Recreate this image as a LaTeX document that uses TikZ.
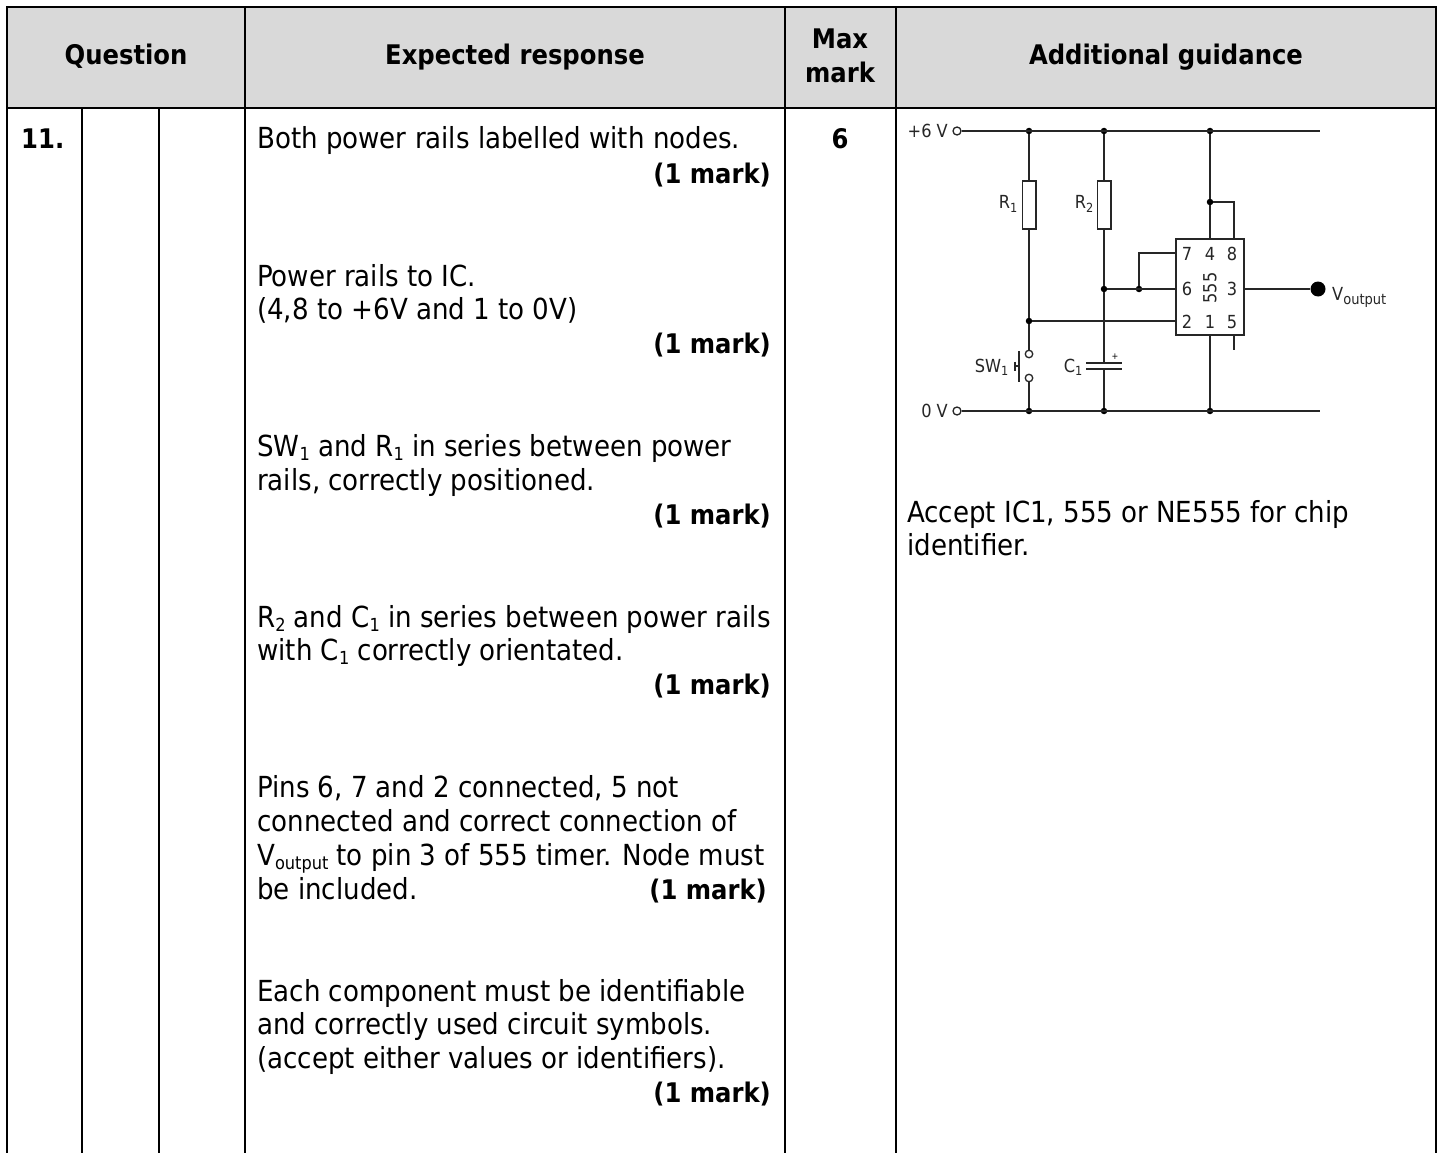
\documentclass[tikz,border=0pt]{standalone}
\usepackage{fontspec}
\setmainfont{DejaVu Sans Condensed}
\newcommand{\subs}[1]{\textsubscript{#1}}
\newcommand{\bsub}[1]{\raisebox{-4.5pt}{\fontsize{18}{18}\selectfont #1}}
\newcommand{\vsub}[1]{\raisebox{-4pt}{\fontsize{14.5}{15}\selectfont #1}}
\tikzset{
  x=1pt,y=-1pt,
  grid/.style={line width=2.3pt,black,line cap=rect},
  wire/.style={line width=1.6pt,black!85},
  body/.style={anchor=base west,inner sep=0pt,font=\fontsize{29}{34}\selectfont},
  mk/.style={anchor=base east,inner sep=0pt,font=\fontsize{27}{34}\selectfont\bfseries},
  head/.style={anchor=base,align=center,inner sep=0pt,font=\fontsize{27}{34}\selectfont\bfseries},
  lab/.style={inner sep=0pt,text=black!85,font=\fontsize{18}{20}\selectfont},
  pin/.style={inner sep=0pt,text=black!85,font=\fontsize{18}{20}\selectfont},
  jn/.style={circle,fill=black,inner sep=0pt,minimum size=6.5pt},
  term/.style={circle,draw=black!85,fill=white,line width=1.3pt,inner sep=0pt,minimum size=8pt},
  res/.style={rectangle,draw=black!85,fill=white,line width=1.5pt,inner sep=0pt,minimum width=13.5pt,minimum height=48pt},
}
\begin{document}
\begin{tikzpicture}
\useasboundingbox (0,0) rectangle (1442,1153);
\fill[white] (0,0) rectangle (1442,1153);
\fill[black!15] (7,7) rectangle (1436,108);
% table grid
\coordinate (tl) at (7,7); \coordinate (tr) at (1436,7);
\coordinate (ml) at (7,108); \coordinate (mr) at (1436,108);
\coordinate (bl) at (7,1153); \coordinate (br) at (1436,1153);
\draw[grid] (bl) -- (tl) -- (tr) -- (br);
\draw[grid] (ml) -- (mr);
\foreach \x in {245,785,896} \draw[grid] (\x,7) -- (\x,1153);
\foreach \x in {82,159} \draw[grid] (\x,108) -- (\x,1153);
% headers
\node[head] (hq) at (126,65) {Question};
\node[head] (he) at (515,65) {Expected response};
\node[head] (hm) at (840,49) {Max};
\node[head] (hm2) at (840,83) {mark};
\node[head] (ha) at (1166,65) {Additional guidance};
\node[mk,anchor=base west] (q) at (21,149) {11.};
\node[mk,anchor=base] (six) at (840,149) {6};
% response text
\node[body] (a1) at (257,149) {Both power rails labelled with nodes.};
\node[mk] (m1) at (771,183) {(1 mark)};
\node[body] (a2) at (257,286) {Power rails to IC.};
\node[body] (a2b) at (257,319) {(4,8 to +6V and 1 to 0V)};
\node[mk] (m2) at (771,353) {(1 mark)};
\node[body] (a3) at (257,456) {SW\bsub{1} and R\bsub{1} in series between power};
\node[body] (a3b) at (257,490) {rails, correctly positioned.};
\node[mk] (m3) at (771,524) {(1 mark)};
\node[body] (a4) at (257,627) {R\bsub{2} and C\bsub{1} in series between power rails};
\node[body] (a4b) at (257,660) {with C\bsub{1} correctly orientated.};
\node[mk] (m4) at (771,694) {(1 mark)};
\node[body] (a5) at (257,797) {Pins 6, 7 and 2 connected, 5 not};
\node[body] (a5b) at (257,831) {connected and correct connection of};
\node[body] (a5c) at (257,865) {V\bsub{output} to pin 3 of 555 timer. Node must};
\node[body] (a5d) at (257,899) {be included.};
\node[mk] (m5) at (767,899) {(1 mark)};
\node[body] (a6) at (257,1001) {Each component must be identifiable};
\node[body] (a6b) at (257,1034) {and correctly used circuit symbols.};
\node[body] (a6c) at (257,1068) {(accept either values or identifiers).};
\node[mk] (m6) at (771,1102) {(1 mark)};
\node[body] (g1) at (907,522) {Accept IC1, 555 or NE555 for chip};
\node[body] (g2) at (907,555) {identifier.};
% circuit
\node[term] (p6) at (957,131) {};
\node[term] (p0) at (957,411) {};
\coordinate (te) at (1320,131); \coordinate (be) at (1320,411);
\node[jn] (t1) at (1029,131) {}; \node[jn] (t2) at (1104,131) {}; \node[jn] (t3) at (1210,131) {};
\node[jn] (b1) at (1029,411) {}; \node[jn] (b2) at (1104,411) {}; \node[jn] (b3) at (1210,411) {};
\draw[wire] (p6) -- (te); \draw[wire] (p0) -- (be);
\node[res] (r1) at (1029,205) {};
\node[res] (r2) at (1104,205) {};
\node[jn] (j1) at (1029,321) {};
\node[jn] (j2) at (1104,289) {};
\node[jn] (j3) at (1139,289) {};
\node[jn] (j4) at (1210,202) {};
\node[term,minimum size=7.5pt] (s1) at (1029,354) {};
\node[term,minimum size=7.5pt] (s2) at (1029,378) {};
\node[draw=black!85,line width=1.6pt,fill=white,inner sep=0pt,minimum width=68pt,minimum height=96pt] (ic) at (1210,287) {};
\draw[wire] (t1) -- (r1) -- (j1) -- (s1);
\draw[wire] (s2) -- (b1);
\draw[wire] (t2) -- (r2) -- (j2);
\coordinate (c1t) at (1104,363); \coordinate (c1b) at (1104,369);
\draw[wire] (j2) -- (c1t); \draw[wire] (c1b) -- (b2);
\draw[wire] (1086,363) -- (1122,363);
\draw[wire] (1086,369) -- (1122,369);
\draw[wire] (t3) -- (j4) -- (1210,239);
\draw[wire] (j4) -- (1234,202) -- (1234,239);
\draw[wire] (j2) -- (1176,289);
\draw[wire] (j3) -- (1139,253) -- (1176,253);
\draw[wire] (j1) -- (1176,321);
\draw[wire] (1210,335) -- (b3);
\draw[wire] (1234,335) -- (1234,350);
\coordinate (o) at (1318,289);
\node[circle,fill=black,inner sep=0pt,minimum size=15pt] (od) at (o) {};
\draw[wire] (1244,289) -- (od);
\draw[wire] (1019,351) -- (1019,382);
\draw[wire] (1019,366) -- (1015,366);
\draw[wire] (1015,361.5) -- (1015,371);
% labels
\node[lab,anchor=east] (l6) at (948,131) {+6 V};
\node[lab,anchor=east] (l0) at (948,411) {0 V};
\node[lab,anchor=east] (lr1) at (1018,204) {R\subs{1}};
\node[lab,anchor=east] (lr2) at (1094,204) {R\subs{2}};
\node[lab,anchor=east] (lsw) at (1009,367) {SW\subs{1}};
\node[lab,anchor=east] (lc) at (1083,367) {C\subs{1}};
\node[inner sep=0pt,font=\fontsize{9}{9}\selectfont] (plus) at (1115,357) {+};
\node[lab,anchor=west] (lv) at (1332,297) {V\vsub{output}};
\node[pin] (n7) at (1187,254) {7}; \node[pin] (n4) at (1210,254) {4}; \node[pin] (n8) at (1232,254) {8};
\node[pin] (n6) at (1187,289) {6}; \node[pin] (n3) at (1232,289) {3};
\node[pin] (n2) at (1187,322) {2}; \node[pin] (n1) at (1210,322) {1}; \node[pin] (n5) at (1232,322) {5};
\node[pin,rotate=90] (n555) at (1210,288) {555};
\end{tikzpicture}
\end{document}
